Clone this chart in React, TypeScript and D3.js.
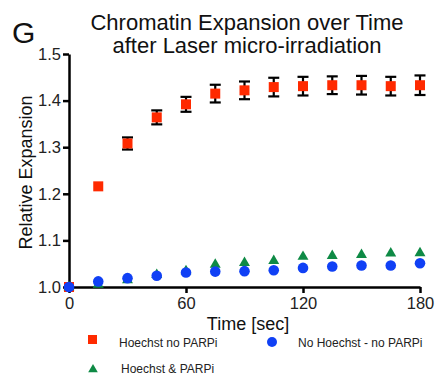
import { useEffect, useRef } from 'react';
import * as d3 from 'd3';

// time points in seconds
const timePoints = [0, 15, 30, 45, 60, 75, 90, 105, 120, 135, 150, 165, 180];

// Hoechst no PARPi (mean + SEM)
const hoechstNoParpi = [1.0, 1.216, 1.308, 1.364, 1.392, 1.415, 1.422, 1.429, 1.431, 1.433, 1.433, 1.431, 1.433];
const hoechstNoParpiErr = [0, 0, 0.013, 0.015, 0.016, 0.019, 0.019, 0.02, 0.02, 0.019, 0.02, 0.02, 0.021];

// Hoechst & PARPi
const hoechstParpi = [1.0, 1.005, 1.015, 1.026, 1.034, 1.048, 1.052, 1.056, 1.065, 1.067, 1.069, 1.072, 1.073];

// No Hoechst - no PARPi
const noHoechstNoParpi = [1.0, 1.012, 1.019, 1.024, 1.031, 1.033, 1.034, 1.036, 1.041, 1.044, 1.046, 1.046, 1.051];

const xTicks = [0, 60, 120, 180];
const yTicks = [1.0, 1.1, 1.2, 1.3, 1.4, 1.5];

const RED = '#ff2a00';
const GREEN = '#0e8a45';
const BLUE = '#1040f5';
const FONT = '"Liberation Sans", Arial, Helvetica, sans-serif';

const App = () => {
    const svgRef = useRef<SVGSVGElement>(null);

    useEffect(() => {
        const svg = d3.select(svgRef.current);
        svg.selectAll('*').remove();

        const x = d3.scaleLinear().domain([0, 180]).range([69, 420]);
        const y = d3.scaleLinear().domain([1.0, 1.5]).range([287, 54]);

        // titles
        svg.append('text').attr('x', 12).attr('y', 43)
            .attr('font-size', 30).attr('font-family', FONT).attr('fill', '#111').text('G');
        const title = svg.append('text').attr('text-anchor', 'middle')
            .attr('font-family', FONT).attr('font-size', 22).attr('fill', '#111');
        title.append('tspan').attr('x', 247).attr('y', 30).text('Chromatin Expansion over Time');
        title.append('tspan').attr('x', 247).attr('y', 53).text('after Laser micro-irradiation');

        // y axis
        const yAxis = svg.append('g')
            .attr('transform', `translate(${x(0)},0)`)
            .call(d3.axisLeft(y).tickValues(yTicks).tickFormat(d3.format('.1f')).tickSize(6).tickSizeOuter(0).tickPadding(2));
        yAxis.select('.domain').attr('stroke-width', 2.5).attr('stroke', '#000');
        yAxis.selectAll('line').attr('stroke-width', 2.5).attr('stroke', '#000');
        yAxis.selectAll('text').attr('font-size', 16.5).attr('font-family', FONT).attr('fill', '#222');

        // x axis
        const xAxis = svg.append('g')
            .attr('transform', `translate(0,${y(1.0)})`)
            .call(d3.axisBottom(x).tickValues(xTicks).tickSize(6).tickSizeOuter(0).tickPadding(4));
        xAxis.select('.domain').attr('stroke-width', 2.5).attr('stroke', '#000');
        xAxis.selectAll('line').attr('stroke-width', 2.5).attr('stroke', '#000');
        xAxis.selectAll('text').attr('font-size', 16.5).attr('font-family', FONT).attr('fill', '#222');

        // axis labels
        svg.append('text')
            .attr('transform', `translate(32,${(y(1.0) + y(1.5)) / 2 + 2}) rotate(-90)`)
            .attr('text-anchor', 'middle').attr('font-size', 18).attr('font-family', FONT).attr('fill', '#111')
            .text('Relative Expansion');
        svg.append('text').attr('x', 248).attr('y', 330)
            .attr('text-anchor', 'middle').attr('font-size', 18).attr('font-family', FONT).attr('fill', '#111')
            .text('Time [sec]');

        const redData = timePoints.map((t, i) => ({ t, v: hoechstNoParpi[i], e: hoechstNoParpiErr[i] }));
        const greenData = timePoints.map((t, i) => ({ t, v: hoechstParpi[i] }));
        const blueData = timePoints.map((t, i) => ({ t, v: noHoechstNoParpi[i] }));

        // error bars
        const eb = svg.append('g').attr('stroke', '#000').attr('stroke-width', 2.2);
        redData.filter(d => d.e > 0).forEach(d => {
            const cx = x(d.t);
            eb.append('line').attr('x1', cx).attr('x2', cx).attr('y1', y(d.v + d.e)).attr('y2', y(d.v - d.e));
            eb.append('line').attr('x1', cx - 5.5).attr('x2', cx + 5.5).attr('y1', y(d.v + d.e)).attr('y2', y(d.v + d.e));
            eb.append('line').attr('x1', cx - 5.5).attr('x2', cx + 5.5).attr('y1', y(d.v - d.e)).attr('y2', y(d.v - d.e));
        });

        // red squares
        svg.append('g').selectAll('rect').data(redData).enter().append('rect')
            .attr('x', d => x(d.t) - 5).attr('y', d => y(d.v) - 5)
            .attr('width', 10).attr('height', 10).attr('fill', RED);

        // green triangles
        const tri = d3.symbol().type(d3.symbolTriangle).size(52);
        svg.append('g').selectAll('path').data(greenData).enter().append('path')
            .attr('d', tri).attr('transform', d => `translate(${x(d.t)},${y(d.v)})`).attr('fill', GREEN);

        // blue circles
        svg.append('g').selectAll('circle').data(blueData).enter().append('circle')
            .attr('cx', d => x(d.t)).attr('cy', d => y(d.v)).attr('r', 5.3).attr('fill', BLUE);

        // legend
        const legend = svg.append('g').attr('font-family', FONT).attr('font-size', 12).attr('fill', '#222');
        legend.append('rect').attr('x', 88).attr('y', 335).attr('width', 9).attr('height', 9).attr('fill', RED);
        legend.append('text').attr('x', 119).attr('y', 347).text('Hoechst no PARPi');
        legend.append('circle').attr('cx', 272).attr('cy', 342).attr('r', 5).attr('fill', BLUE);
        legend.append('text').attr('x', 298).attr('y', 347).text('No Hoechst - no PARPi');
        legend.append('path').attr('d', d3.symbol().type(d3.symbolTriangle).size(40)())
            .attr('transform', 'translate(93,369.5)').attr('fill', GREEN);
        legend.append('text').attr('x', 121).attr('y', 373).text('Hoechst & PARPi');
    }, []);

    return (
        <svg ref={svgRef} width={436} height={377}
            style={{ position: 'absolute', left: 0, top: 0, background: '#fff' }} />
    );
};

export default App;
